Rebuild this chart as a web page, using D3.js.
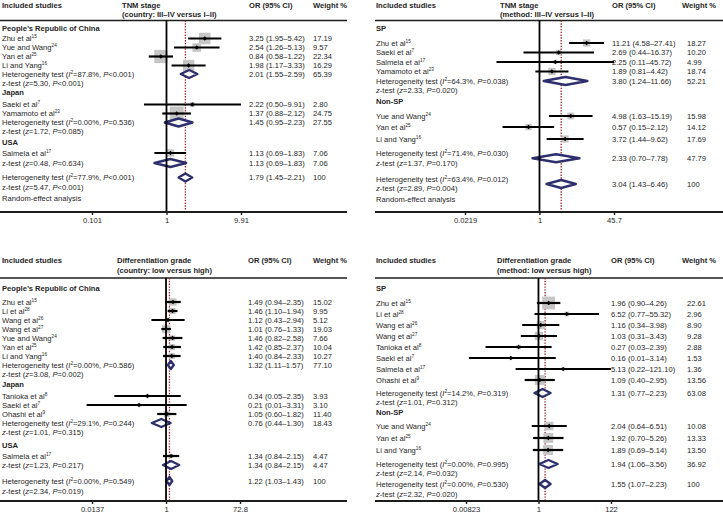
<!DOCTYPE html>
<html><head><meta charset="utf-8">
<script src="https://cdn.jsdelivr.net/npm/d3@7"></script>
<style>
body{margin:0;background:#fff}
svg{display:block}
text{font-family:"Liberation Sans",Arial,sans-serif;fill:#262626}
</style>
</head><body>
<svg id="chart" width="723" height="513"></svg>
<script>
// ================= DATA =================
// Panel A: TNM stage (country: III–IV versus I–II)
const aTitle = ["TNM stage", "(country: III\u2013IV versus I\u2013II)"];
const aKind = ["group","study","study","study","study","het","z","group","study","study","het","z","group","study","zsum","het","z","note"];
const aText = ["People\u2019s Republic of China","Zhu et al^15^","Yue and Wang^24^","Yan et al^25^","Li and Yang^16^",
  "Heterogeneity test (*I*^2^=87.8%, *P*<0.001)","z-test (*z*=5.30, *P*<0.001)","Japan","Saeki et al^7^","Yamamoto et al^23^",
  "Heterogeneity test (*I*^2^=0.00%, *P*=0.536)","z-test (*z*=1.72, *P*=0.085)","USA","Salmela et al^17^",
  "z-test (*z*=0.48, *P*=0.634)","Heterogeneity test (*I*^2^=77.9%, *P*<0.001)","z-test (*z*=5.47, *P*<0.001)","Random-effect analysis"];
const aOR     = [null,3.25,2.54,0.84,1.98,2.01,null,null,2.22,1.37,1.45,null,null,1.13,1.13,1.79,null,null];
const aLow    = [null,1.95,1.26,0.58,1.17,1.55,null,null,0.50,0.88,0.95,null,null,0.69,0.69,1.45,null,null];
const aHigh   = [null,5.42,5.13,1.22,3.33,2.59,null,null,9.91,2.12,2.23,null,null,1.83,1.83,2.21,null,null];
const aWeight = [null,17.19,9.57,22.34,16.29,65.39,null,null,2.80,24.75,27.55,null,null,7.06,7.06,100,null,null];
const aTicks = [0.101, 1, 9.91];
const aTickLabels = ["0.101","1","9.91"];
const aOverall = 1.79;

// Panel B: TNM stage (method: III–IV versus I–II)
const bTitle = ["TNM stage", "(method: III\u2013IV versus I\u2013II)"];
const bKind = ["group","study","study","study","study","het","z","group","study","study","study","hetmid","z","hetmid","z","note"];
const bText = ["SP","Zhu et al^15^","Saeki et al^7^","Salmela et al^17^","Yamamoto et al^23^",
  "Heterogeneity test (*I*^2^=64.3%, *P*=0.038)","*z*-test (*z*=2.33, *P*=0.020)","Non-SP","Yue and Wang^24^","Yan et al^25^","Li and Yang^16^",
  "Heterogeneity test (*I*^2^=71.4%, *P*=0.030)","*z*-test (*z*=1.37, *P*=0.170)",
  "Heterogeneity test (*I*^2^=63.4%, *P*=0.012)","*z*-test (*z*=2.89, *P*=0.004)","Random-effect analysis"];
const bOR     = [null,11.21,2.69,2.25,1.89,3.80,null,null,4.98,0.57,3.72,2.33,null,3.04,null,null];
const bLow    = [null,4.58,0.44,0.11,0.81,1.24,null,null,1.63,0.15,1.44,0.70,null,1.43,null,null];
const bHigh   = [null,27.41,16.37,45.72,4.42,11.66,null,null,15.19,2.12,9.62,7.78,null,6.46,null,null];
const bWeight = [null,18.27,10.20,4.99,18.74,52.21,null,null,15.98,14.12,17.69,47.79,null,100,null,null];
const bTicks = [0.0219, 1, 45.7];
const bTickLabels = ["0.0219","1","45.7"];
const bOverall = 3.04;

// Panel C: Differentiation grade (country: low versus high)
const cTitle = ["Differentiation grade", "(country: low versus high)"];
const cKind = ["group","study","study","study","study","study","study","study","het","z","group","study","study","study","het","z","group","study","zsum","het","z"];
const cText = ["People\u2019s Republic of China","Zhu et al^15^","Li et al^28^","Wang et al^26^","Wang et al^27^","Yue and Wang^24^","Yan et al^25^","Li and Yang^16^",
  "Heterogeneity test (*I*^2^=0.00%, *P*=0.586)","*z*-test (*z*=3.08, *P*=0.002)","Japan","Tanioka et al^8^","Saeki et al^7^","Ohashi et al^9^",
  "Heterogeneity test (*I*^2^=29.1%, *P*=0.244)","*z*-test (*z*=1.01, *P*=0.315)","USA","Salmela et al^17^","*z*-test (*z*=1.23, *P*=0.217)",
  "Heterogeneity test (*I*^2^=0.00%, *P*=0.549)","*z*-test (*z*=2.34, *P*=0.019)"];
const cOR     = [null,1.49,1.46,1.12,1.01,1.46,1.42,1.40,1.32,null,null,0.34,0.21,1.05,0.76,null,null,1.34,1.34,1.22,null];
const cLow    = [null,0.94,1.10,0.43,0.76,0.82,0.85,0.84,1.11,null,null,0.05,0.01,0.60,0.44,null,null,0.84,0.84,1.03,null];
const cHigh   = [null,2.35,1.94,2.94,1.33,2.58,2.37,2.33,1.57,null,null,2.35,3.31,1.82,1.30,null,null,2.15,2.15,1.43,null];
const cWeight = [null,15.02,9.95,5.12,19.03,7.66,10.04,10.27,77.10,null,null,3.93,3.10,11.40,18.43,null,null,4.47,4.47,100,null];
const cTicks = [0.0137, 1, 72.8];
const cTickLabels = ["0.0137","1","72.8"];
const cOverall = 1.22;

// Panel D: Differentiation grade (method: low versus high)
const dTitle = ["Differentiation grade", "(method: low versus high)"];
const dKind = ["group","study","study","study","study","study","study","study","study","het","z","group","study","study","study","het","z","het","z"];
const dText = ["SP","Zhu et al^15^","Li et al^28^","Wang et al^26^","Wang et al^27^","Tanioka et al^8^","Saeki et al^7^","Salmela et al^17^","Ohashi et al^9^",
  "Heterogeneity test (*I*^2^=14.2%, *P*=0.319)","*z*-test (*z*=1.01, *P*=0.312)","Non-SP","Yue and Wang^24^","Yan et al^25^","Li and Yang^16^",
  "Heterogeneity test (*I*^2^=0.00%, *P*=0.995)","*z*-test (*z*=2.14, *P*=0.032)",
  "Heterogeneity test (*I*^2^=0.00%, *P*=0.530)","*z*-test (*z*=2.32, *P*=0.020)"];
const dOR     = [null,1.96,6.52,1.16,1.03,0.27,0.16,5.13,1.09,1.31,null,null,2.04,1.92,1.89,1.94,null,1.55,null];
const dLow    = [null,0.90,0.77,0.34,0.31,0.03,0.01,0.22,0.40,0.77,null,null,0.64,0.70,0.69,1.06,null,1.07,null];
const dHigh   = [null,4.26,55.32,3.98,3.43,2.39,3.14,121.10,2.95,2.23,null,null,6.51,5.26,5.14,3.56,null,2.23,null];
const dWeight = [null,22.61,2.96,8.90,9.28,2.88,1.53,1.36,13.56,63.08,null,null,10.08,13.33,13.50,36.92,null,100,null];
const dTicks = [0.00823, 1, 122];
const dTickLabels = ["0.00823","1","122"];
const dOverall = 1.55;

const headerLabels = ["Included studies", "OR (95% CI)", "Weight %"];

// ================= LAYOUT =================
const FS = 7.6;
const layouts = [
  {x0:0, x1:347, labelX:2, headX:122, orX:249, wHeadX:313, wX:313, range:[92,241], headY:[5,14.5], ruleY:20.5, axisY:212, sq:2.8,
   rowY:[28,38.5,47.5,56.5,65.5,74,83,92,104.5,113.5,122.5,131,142,153,163,177.5,187,198]},
  {x0:375, x1:723, labelX:376, headX:500, orX:612, wHeadX:682, wX:687, range:[465,614], headY:[5,14.5], ruleY:20.5, axisY:212, sq:1.7,
   rowY:[28,43,52.5,62,71.5,81,90,101,116,127,139,153.5,163,179.5,188.5,199]},
  {x0:0, x1:347, labelX:2, headX:117, orX:248, wHeadX:313, wX:313, range:[92,240], headY:[260,270], ruleY:278, axisY:501, sq:1.9,
   rowY:[288,302,311,320,329,338,347,356,365,374,384,396,405,414,423,432,445,456,465,481,491]},
  {x0:375, x1:723, labelX:376, headX:497, orX:611, wHeadX:682, wX:687, range:[466,611], headY:[260,270], ruleY:278, axisY:501, sq:2.7,
   rowY:[288,303,314,325,336,347,358,369,380,393,402,412,426,438,450,464,473,484,494]}
];

const panels = [
  {title:aTitle, kind:aKind, text:aText, or:aOR, lo:aLow, hi:aHigh, w:aWeight, ticks:aTicks, tickLabels:aTickLabels, overall:aOverall},
  {title:bTitle, kind:bKind, text:bText, or:bOR, lo:bLow, hi:bHigh, w:bWeight, ticks:bTicks, tickLabels:bTickLabels, overall:bOverall},
  {title:cTitle, kind:cKind, text:cText, or:cOR, lo:cLow, hi:cHigh, w:cWeight, ticks:cTicks, tickLabels:cTickLabels, overall:cOverall},
  {title:dTitle, kind:dKind, text:dText, or:dOR, lo:dLow, hi:dHigh, w:dWeight, ticks:dTicks, tickLabels:dTickLabels, overall:dOverall}
];

const INK = "#1c1c1c", NAVY = "#2e2f6c", RED = "#9a2530", GREY = "#c6c6c6";

function rich(sel, str, fs){
  const parts = str.split(/(\*[^*]+\*|\^[^^]+\^)/).filter(s => s.length);
  let shift = 0;
  parts.forEach(p => {
    const t = sel.append("tspan");
    if (p[0] === "^") {
      const target = -fs*0.38;
      t.attr("font-size", fs*0.62).attr("dy", target - shift).text(p.slice(1,-1));
      shift = target;
    } else {
      if (shift !== 0) t.attr("dy", -shift);
      shift = 0;
      if (p[0] === "*") t.attr("font-style","italic").text(p.slice(1,-1));
      else t.text(p);
    }
  });
}
function fmt(v){ return Number.isInteger(v) ? String(v) : v.toFixed(2); }

const svg = d3.select("#chart");

panels.forEach((d, pi) => {
  const L = layouts[pi];
  const g = svg.append("g");
  const x = d3.scaleLog().domain([d.ticks[0], d.ticks[2]]).range(L.range);
  const base = FS*0.35;

  // headers
  const hdr = [[headerLabels[0], L.labelX, L.headY[0]], [d.title[0], L.headX, L.headY[0]], [d.title[1], L.headX, L.headY[1]],
               [headerLabels[1], L.orX, L.headY[0]], [headerLabels[2], L.wHeadX, L.headY[0]]];
  g.selectAll("text.hdr").data(hdr).join("text").attr("class","hdr")
    .attr("x", h => h[1]).attr("y", h => h[2] + base)
    .attr("font-size", FS).attr("font-weight", "bold").attr("fill", "#111").text(h => h[0]);

  g.append("line").attr("x1", L.x0).attr("x2", L.x1).attr("y1", L.ruleY).attr("y2", L.ruleY)
    .attr("stroke", INK).attr("stroke-width", 1.4);

  // reference line at pooled estimate
  g.append("line").attr("x1", x(d.overall)).attr("x2", x(d.overall)).attr("y1", L.ruleY).attr("y2", L.axisY)
    .attr("stroke", RED).attr("stroke-width", 1.3).attr("stroke-dasharray", "1.4,1.4");

  const idx = d3.range(d.kind.length);
  const yOf = i => L.rowY[i];
  const yVal = i => d.kind[i] === "hetmid" ? (L.rowY[i] + L.rowY[i+1]) / 2 : L.rowY[i];

  // row labels
  idx.forEach(i => {
    const t = g.append("text").attr("x", L.labelX).attr("y", yOf(i) + base).attr("font-size", FS);
    if (d.kind[i] === "group") t.attr("font-weight", "bold").attr("fill", "#111").text(d.text[i]);
    else rich(t, d.text[i], FS);
  });

  const studies = idx.filter(i => d.kind[i] === "study");
  const sums = idx.filter(i => ["het","hetmid","zsum"].includes(d.kind[i]) && d.or[i] != null);

  // weight squares
  g.selectAll("rect.sq").data(studies).join("rect").attr("class","sq")
    .attr("x", i => x(d.or[i]) - L.sq*Math.sqrt(d.w[i])/2)
    .attr("y", i => yOf(i) - L.sq*Math.sqrt(d.w[i])/2)
    .attr("width", i => L.sq*Math.sqrt(d.w[i]))
    .attr("height", i => L.sq*Math.sqrt(d.w[i]))
    .attr("fill", GREY);

  // CI lines
  g.selectAll("line.ci").data(studies).join("line").attr("class","ci")
    .attr("x1", i => x(d.lo[i])).attr("x2", i => x(d.hi[i]))
    .attr("y1", yOf).attr("y2", yOf)
    .attr("stroke", "#000").attr("stroke-width", 2.2);

  // point estimates
  g.selectAll("path.pt").data(studies).join("path").attr("class","pt")
    .attr("d", i => { const cx = x(d.or[i]), cy = yOf(i), r = 2.2;
      return `M${cx-r},${cy}L${cx},${cy-r}L${cx+r},${cy}L${cx},${cy+r}Z`; })
    .attr("fill", "#000");

  // summary diamonds
  g.selectAll("path.dia").data(sums).join("path").attr("class","dia")
    .attr("d", i => { const cy = yVal(i), h = 4;
      return `M${x(d.lo[i])},${cy}L${x(d.or[i])},${cy-h}L${x(d.hi[i])},${cy}L${x(d.or[i])},${cy+h}Z`; })
    .attr("fill", "#fff").attr("stroke", NAVY).attr("stroke-width", 2.4).attr("stroke-linejoin","round");

  // null line on top
  g.append("line").attr("x1", x(1)).attr("x2", x(1)).attr("y1", L.ruleY).attr("y2", L.axisY)
    .attr("stroke", "#000").attr("stroke-width", 1.8);

  // OR + weight text
  const valued = idx.filter(i => d.or[i] != null);
  g.selectAll("text.or").data(valued).join("text").attr("class","or")
    .attr("x", L.orX).attr("y", i => yVal(i) + base).attr("font-size", FS)
    .text(i => `${d.or[i].toFixed(2)} (${d.lo[i].toFixed(2)}\u2013${d.hi[i].toFixed(2)})`);
  g.selectAll("text.wt").data(valued).join("text").attr("class","wt")
    .attr("x", L.wX).attr("y", i => yVal(i) + base).attr("font-size", FS)
    .text(i => fmt(d.w[i]));

  // axis
  const ax = g.append("g").attr("transform", `translate(0,${L.axisY})`)
    .call(d3.axisBottom(x).tickValues(d.ticks).tickFormat((v, k) => d.tickLabels[k]).tickSize(3).tickPadding(3));
  ax.select(".domain").remove();
  ax.selectAll(".tick line").attr("stroke", INK).attr("stroke-width", 1.4);
  ax.selectAll(".tick text").attr("font-size", FS).attr("font-family", "Liberation Sans, Arial, sans-serif").attr("fill", "#262626");
  g.append("line").attr("x1", L.x0).attr("x2", L.x1).attr("y1", L.axisY).attr("y2", L.axisY)
    .attr("stroke", INK).attr("stroke-width", 1.8);
});
</script>
</body></html>
